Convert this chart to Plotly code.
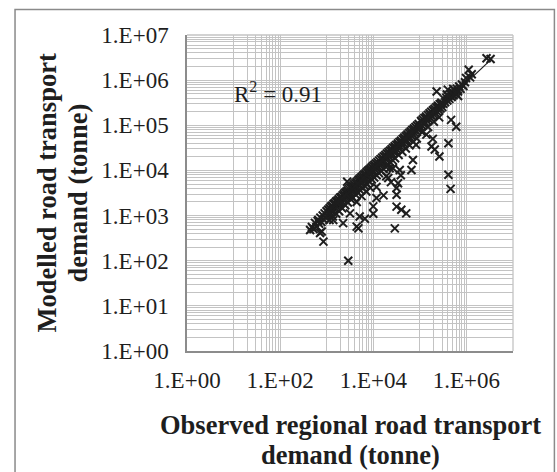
import plotly.graph_objects as go

# Observed vs modelled regional road transport demand (tonne), as (observed, modelled) pairs

# Main band along the diagonal
band_low = [
    (440, 480), (480, 560), (520, 500), (560, 690), (600, 560), (640, 760), (690, 660),
    (730, 900), (770, 720), (820, 1000), (860, 820), (900, 1120), (950, 900), (990, 1250),
]
band_1e3 = [
    (1030, 1000), (1070, 1350), (1110, 1080), (1150, 1450), (1190, 1160), (1230, 1580),
    (1270, 1230), (1310, 1650), (1350, 1300), (1400, 1800), (1440, 1400), (1490, 1900),
    (1540, 1480), (1590, 2050), (1640, 1600), (1700, 2150), (1750, 1700), (1810, 2300),
    (1870, 1800), (1930, 2500), (1990, 1920), (2060, 2600), (2120, 2050), (2190, 2800),
    (2260, 2200), (2340, 3000), (2410, 2300), (2490, 3200), (2570, 2480), (2650, 3400),
    (2740, 2650), (2830, 3600), (2920, 2800), (3010, 3850), (3100, 3000),
    (1200, 1400), (1500, 1750), (1800, 2000), (2100, 2500), (2400, 2750), (2800, 3200),
    (1150, 800), (1350, 950), (1600, 1100), (1850, 1250), (2150, 1450), (2500, 1700), (2850, 1950),
]
band_3e3 = [
    (3200, 4100), (3300, 3150), (3400, 4300), (3510, 3350), (3620, 4600), (3730, 3550),
    (3850, 4900), (3970, 3800), (4100, 5200), (4230, 4000), (4360, 5500), (4500, 4300),
    (4650, 5900), (4800, 4600), (4950, 6300), (5100, 4850), (5270, 6700), (5440, 5200),
    (5610, 7100), (5790, 5500), (5980, 7600), (6170, 5900), (6370, 8100), (6570, 6250),
    (6780, 8600), (7000, 6650), (7220, 9200), (7450, 7100), (7690, 9800), (7940, 7550),
    (8190, 10400), (8450, 8000), (8720, 11000), (9000, 8550), (9290, 11800), (9590, 9100),
    (9900, 12500),
    (3500, 3900), (4000, 4500), (4600, 5100), (5300, 5900), (6100, 6800), (7000, 7800),
    (8000, 9000), (9000, 10000),
    (3300, 2300), (3700, 2500), (4200, 2900), (4700, 3200), (5300, 3600), (5900, 4000),
    (6600, 4500), (7400, 5000), (8300, 5600), (9300, 6300),
    (4400, 2000), (5600, 2700), (7100, 3400), (8600, 4100),
]
band_1e4 = [
    (10200, 9700), (10600, 13400), (11000, 10400), (11400, 14300), (11800, 11200),
    (12300, 15300), (12800, 12100), (13300, 16500), (13800, 13000), (14300, 17800),
    (14900, 14000), (15500, 19200), (16100, 15100), (16700, 20500), (17400, 16300),
    (18100, 22000), (18800, 17500), (19500, 23700), (20300, 18900), (21100, 25500),
    (21900, 20300), (22800, 27400), (23700, 21900), (24600, 29500), (25600, 23600),
    (26600, 31700), (27700, 25400), (28800, 34200), (29900, 27300), (31100, 36800),
    (11000, 12000), (13000, 14200), (15500, 17000), (18000, 19800), (21000, 23000),
    (25000, 27500), (29000, 31800),
    (10500, 7000), (11800, 7800), (13200, 8700), (14800, 9700), (16600, 10800),
    (18600, 12000), (20900, 13400), (23400, 15000), (26200, 16700), (29400, 18600),
]
band_3e4 = [
    (32300, 29300), (33600, 39500), (35000, 31700), (36400, 42500), (37900, 34200),
    (39400, 45800), (41000, 37000), (42700, 49500), (44400, 40000), (46200, 53500),
    (48100, 43200), (50000, 57700), (52000, 46700), (54100, 62300), (56300, 50400),
    (58600, 67300), (61000, 54400), (63400, 72700), (66000, 58800), (68600, 78500),
    (71400, 63500), (74300, 84800), (77300, 68600), (80400, 91500), (83700, 74100),
    (87100, 98800), (90600, 80000), (94300, 106700), (98100, 86400),
    (34000, 36000), (40000, 42500), (47000, 50000), (55000, 58500), (65000, 69000),
    (76000, 81000), (90000, 96000),
    (35000, 22000), (42000, 26000), (50000, 30500), (60000, 36000), (72000, 43000), (86000, 51000),
]
band_1e5 = [
    (102000, 93000), (106000, 124000), (110000, 100000), (115000, 134000), (120000, 108000),
    (125000, 145000), (130000, 117000), (136000, 157000), (142000, 126000), (148000, 170000),
    (154000, 137000), (161000, 184000), (168000, 148000), (175000, 199000), (182000, 160000),
    (190000, 215000), (198000, 173000), (207000, 233000), (216000, 187000), (225000, 252000),
    (235000, 202000), (245000, 272000), (256000, 218000), (267000, 294000), (278000, 236000),
    (290000, 318000), (303000, 255000),
    (110000, 118000), (135000, 142000), (165000, 172000), (200000, 210000), (245000, 255000),
    (290000, 300000),
    (112000, 70000), (150000, 92000), (200000, 120000), (260000, 150000),
]
band_high = [
    (320000, 300000), (335000, 375000), (350000, 325000), (370000, 410000), (390000, 355000),
    (410000, 445000), (430000, 385000), (455000, 490000), (480000, 420000), (505000, 540000),
    (530000, 460000), (560000, 590000), (590000, 505000), (620000, 650000), (660000, 560000),
    (700000, 720000), (750000, 640000), (800000, 800000), (860000, 740000), (930000, 900000),
    (380000, 480000), (520000, 640000),
    (980000, 1120000), (1120000, 1700000), (1200000, 1150000), (1300000, 1350000),
    (2700000, 3050000), (3300000, 2950000),
]

# Points well away from the band
scattered = [
    (660, 800), (780, 445), (850, 265), (720, 410), (1380, 800), (2250, 680), (2750, 5600),
    (3160, 1120), (2900, 100), (4400, 570), (4800, 520), (5100, 950), (6600, 850),
    (10000, 1600), (10000, 1100), (11700, 2450), (11700, 4300), (16600, 2800), (19000, 7400),
    (21000, 6800), (22400, 11200), (24000, 5500), (26500, 11200), (29000, 520), (31600, 1580),
    (31600, 2900), (31600, 4070), (34000, 5200), (37000, 10200), (39000, 7800), (40000, 1350),
    (51000, 1120), (66000, 10200), (71000, 17000), (83000, 37000), (138000, 62000),
    (178000, 34000), (190000, 50000), (209000, 29000), (263000, 20400), (410000, 40000),
    (410000, 8000), (457000, 3900), (468000, 132000), (603000, 93000), (229000, 562000),
    (398000, 616000), (661000, 447000),
]

groups = [band_low, band_1e3, band_3e3, band_1e4, band_3e4, band_1e5, band_high, scattered]
observed = [p[0] for g in groups for p in g]
modelled = [p[1] for g in groups for p in g]

# Power trendline  y = a * x^b
trend_a = 1.35
trend_b = 0.969
trend_x = [430, 3400000]
trend_y = [trend_a * v ** trend_b for v in trend_x]
r_squared = 0.91

# Axis ticks
y_major = [10 ** k for k in range(0, 8)]
y_labels = ["1.E+%02d" % k for k in range(0, 8)]
y_minor = [m * 10 ** k for k in range(0, 7) for m in range(2, 10)]
x_major = [1, 100, 10000, 1000000]
x_labels = ["1.E+00", "1.E+02", "1.E+04", "1.E+06"]
x_minor = [m * 10 ** (k + 1) for k in (0, 2, 4) for m in range(1, 10)] + [10 ** 7]

GRID = "#c3c3c3"
AXIS = "#8c8c8c"
INK = "#1e1e1e"
FONT = "Liberation Serif"

fig = go.Figure()
fig.add_trace(go.Scatter(
    x=observed, y=modelled, mode="markers",
    marker=dict(symbol="x-thin", size=8, color=INK, line=dict(width=2, color=INK)),
    showlegend=False, hoverinfo="x+y",
))
fig.add_trace(go.Scatter(
    x=trend_x, y=trend_y, mode="lines",
    line=dict(color=INK, width=1.2), showlegend=False, hoverinfo="skip",
))

tick_font = dict(family=FONT, size=23, color=INK)

fig.update_xaxes(
    type="log", range=[0, 7], tickmode="array", tickvals=x_major, ticktext=x_labels,
    showgrid=True, gridcolor=GRID, gridwidth=1.3, automargin=False,
    minor=dict(tickmode="array", tickvals=x_minor, showgrid=True, gridcolor=GRID,
               gridwidth=1.3, ticks=""),
    showline=True, linecolor=AXIS, linewidth=1.5, zeroline=False,
    ticks="outside", ticklen=8, tickcolor="rgba(0,0,0,0)", tickfont=tick_font,
)
fig.update_yaxes(
    type="log", range=[0, 7], tickmode="array", tickvals=y_major, ticktext=y_labels,
    showgrid=True, gridcolor=GRID, gridwidth=1.3, automargin=False,
    minor=dict(tickmode="array", tickvals=y_minor, showgrid=True, gridcolor=GRID,
               gridwidth=1.3, ticks=""),
    showline=True, linecolor=AXIS, linewidth=1.5, zeroline=False,
    ticks="outside", ticklen=12, tickcolor="rgba(0,0,0,0)", tickfont=tick_font,
)

title_font = dict(family=FONT, size=26.5, color=INK)
annotations = [
    dict(xref="x", yref="y", x=1.96, y=5.72, showarrow=False,
         text="R<sup>2</sup> = %.2f" % r_squared,
         font=dict(family=FONT, size=23, color=INK)),
    dict(xref="paper", yref="paper", x=0.5, y=0, yshift=-74, yanchor="middle",
         showarrow=False, text="<b>Observed regional road transport</b>", font=title_font),
    dict(xref="paper", yref="paper", x=0.5, y=0, yshift=-104, yanchor="middle",
         showarrow=False, text="<b>demand (tonne)</b>", font=title_font),
    dict(xref="paper", yref="paper", x=0, y=0.5, xshift=-140.5, xanchor="center",
         textangle=-90, showarrow=False, text="<b>Modelled road transport</b>",
         font=title_font),
    dict(xref="paper", yref="paper", x=0, y=0.5, xshift=-109.5, xanchor="center",
         textangle=-90, showarrow=False, text="<b>demand (tonne)</b>", font=title_font),
]

shapes = [
    # top and right edges of the plot area
    dict(type="line", xref="paper", yref="paper", x0=0, x1=1, y0=1, y1=1,
         line=dict(color=GRID, width=1.3)),
    dict(type="line", xref="paper", yref="paper", x0=1, x1=1, y0=0, y1=1,
         line=dict(color=GRID, width=1.3)),
    # outer chart frame
    dict(type="rect", xref="paper", yref="paper", x0=-0.5275, x1=1.127, y0=-0.45, y1=1.0807,
         line=dict(color="#8a8a8a", width=1.5), layer="below"),
]

fig.update_layout(
    width=557, height=472,
    margin=dict(l=187, r=44, t=35, b=121, autoexpand=False),
    paper_bgcolor="white", plot_bgcolor="white",
    font=dict(family=FONT, color=INK),
    annotations=annotations, shapes=shapes,
    showlegend=False,
)

fig.write_html("out.html")
